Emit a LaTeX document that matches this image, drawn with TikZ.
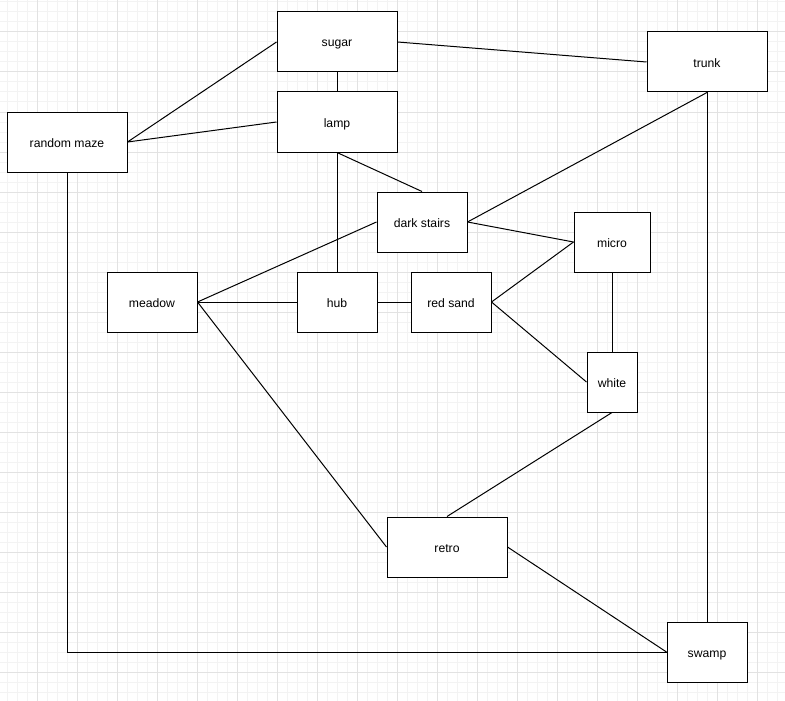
\documentclass[tikz,border=0pt]{standalone}
\usepackage{fontspec}
\setmainfont{Liberation Sans}
\begin{document}
\begin{tikzpicture}[x=1pt,y=-1pt,
  box/.style={draw=black,line width=1pt,fill=white,rectangle,inner sep=0pt,text height=11pt,text depth=1pt,font=\fontsize{12.2}{14}\selectfont},
  link/.style={draw=black,line width=1pt}]
\definecolor{minorgrid}{HTML}{F3F3F3}
\definecolor{majorgrid}{HTML}{E2E2E2}
\useasboundingbox (0,0) rectangle (785,701);
\fill[white] (0,0) rectangle (785,701);
\foreach \x in {7,17,...,787} \draw[minorgrid,line width=1pt] (\x,0) -- (\x,701);
\foreach \y in {2,12,...,702} \draw[minorgrid,line width=1pt] (0,\y) -- (785,\y);
\foreach \x in {37,77,...,787} \draw[majorgrid,line width=1pt] (\x,0) -- (\x,701);
\foreach \y in {32,72,...,702} \draw[majorgrid,line width=1pt] (0,\y) -- (785,\y);

\node[box,minimum width=120,minimum height=60] (sugar) at (337,42) {sugar};
\node[box,minimum width=120,minimum height=60] (lamp) at (337,122) {lamp};
\node[box,minimum width=120,minimum height=60] (maze) at (67,142) {random maze};
\node[box,minimum width=120,minimum height=60] (trunk) at (707,62) {trunk};
\node[box,minimum width=90,minimum height=60] (dark) at (422,222) {dark stairs};
\node[box,minimum width=76,minimum height=60] (micro) at (612,242) {micro};
\node[box,minimum width=90,minimum height=60] (meadow) at (152,302) {meadow};
\node[box,minimum width=80,minimum height=60] (hub) at (337,302) {hub};
\node[box,minimum width=80,minimum height=60] (red) at (451,302) {red sand};
\node[box,minimum width=50,minimum height=60] (white) at (612,382) {white};
\node[box,minimum width=120,minimum height=60] (retro) at (447,547) {retro};
\node[box,minimum width=80,minimum height=60] (swamp) at (707,652) {swamp};

\draw[link] (sugar.south) -- (lamp.north);
\draw[link] (sugar.west) -- (maze.east);
\draw[link] (lamp.west) -- (maze.east);
\draw[link] (sugar.east) -- (trunk.west);
\draw[link] (maze.south) |- (swamp.west);
\draw[link] (lamp.south) -- (hub.north);
\draw[link] (lamp.south) -- (dark.north);
\draw[link] (trunk.south) -- (dark.east);
\draw[link] (trunk.south) -- (swamp.north);
\draw[link] (dark.east) -- (micro.west);
\draw[link] (dark.west) -- (meadow.east);
\draw[link] (meadow.east) -- (hub.west);
\draw[link] (hub.east) -- (red.west);
\draw[link] (red.east) -- (micro.west);
\draw[link] (red.east) -- (white.west);
\draw[link] (micro.south) -- (white.north);
\draw[link] (white.south) -- (retro.north);
\draw[link] (meadow.east) -- (retro.west);
\draw[link] (retro.east) -- (swamp.west);
\end{tikzpicture}
\end{document}
